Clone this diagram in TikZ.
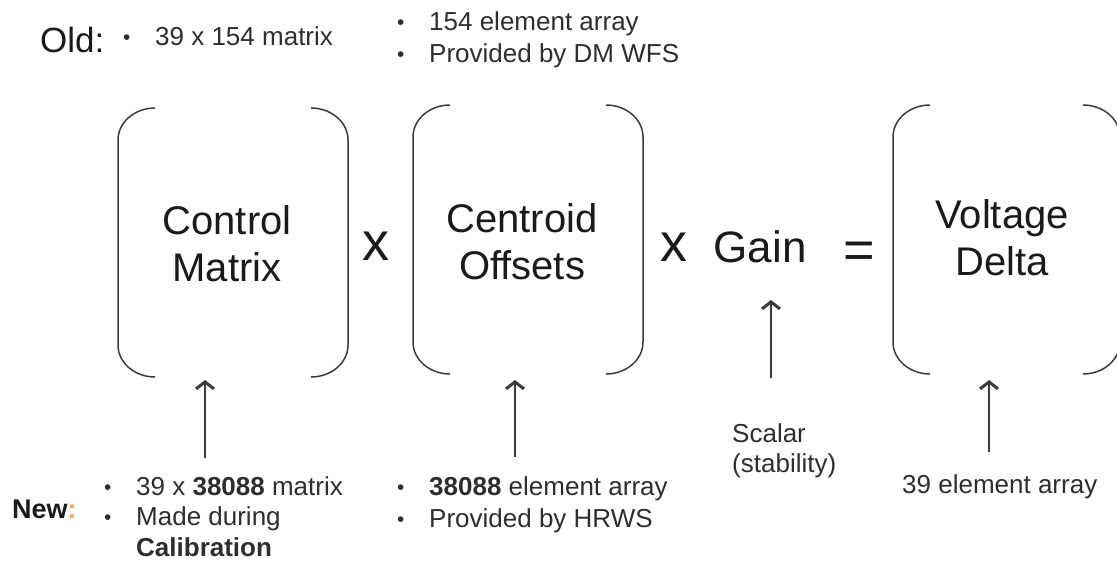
\documentclass[tikz,border=0pt]{standalone}
\usepackage{fontspec}
\setmainfont{Liberation Sans}
\usetikzlibrary{arrows.meta}
\definecolor{ink}{HTML}{1A1A1A}
\definecolor{soft}{HTML}{2E2E2E}
\definecolor{linec}{HTML}{3A3A3A}
\definecolor{orng}{HTML}{F5A05A}
\newcommand\mylbr[3]{\draw[brk] ({#1+37},#2) .. controls ({#1+16.6},#2) and (#1,{#2+14.3}) .. (#1,{#2+32}) -- (#1,{#3-32}) .. controls (#1,{#3-14.3}) and ({#1+16.6},#3) .. ({#1+37},#3);}
\newcommand\myrbr[3]{\draw[brk] ({#1-37},#2) .. controls ({#1-16.6},#2) and (#1,{#2+14.3}) .. (#1,{#2+32}) -- (#1,{#3-32}) .. controls (#1,{#3-14.3}) and ({#1-16.6},#3) .. ({#1-37},#3);}
\newcommand\bul{\makebox[32pt][l]{\raisebox{1pt}{\scalebox{0.8}{\textbullet}}}}
\begin{document}
\begin{tikzpicture}[x=1pt,y=-1pt,
  big/.style={font=\fontsize{40}{46.5}\selectfont, text=ink, align=center, inner sep=0pt, anchor=base},
  op/.style={font=\fontsize{54}{60}\selectfont, text=ink, inner sep=0pt, anchor=base},
  small/.style={font=\fontsize{26}{32}\selectfont, text=soft, inner sep=0pt, anchor=base west},
  brk/.style={draw=linec, line width=1.5pt},
  uparrow/.style={draw=linec, line width=1.7pt, -{Straight Barb[length=7pt,width=18pt,line width=3pt]}}]
\useasboundingbox (0,0) rectangle (1117,563);
\clip (0,0) rectangle (1117,563);
% brackets
\mylbr{118}{108}{377}
\myrbr{348}{108}{377}
\mylbr{413}{105}{374}
\myrbr{643}{105}{374}
\mylbr{893}{105}{374}
\myrbr{1120}{105}{374}
% main labels (base anchor = baseline of the last line)
\node[big] (cm) at (227,281) {Control\\Matrix};
\node[big] (co) at (522,279) {Centroid\\Offsets};
\node[big] (vd) at (1002,275) {Voltage\\Delta};
\node[op] (x1) at (376,260) {x};
\node[op] (x2) at (674,261) {x};
\node[big,font=\fontsize{44}{50}\selectfont] (gain) at (760,262) {Gain};
\node[op] (eq) at (859.5,268) {=};
% arrows
\coordinate (cmTail) at (205,458);
\coordinate (cmTip) at (205,380);
\coordinate (coTail) at (515,457);
\coordinate (coTip) at (515,380);
\coordinate (gTail) at (771,378);
\coordinate (gTip) at (771,300);
\coordinate (vdTail) at (989,452);
\coordinate (vdTip) at (989,380);
\draw[uparrow] (cmTail) -- (cmTip);
\draw[uparrow] (coTail) -- (coTip);
\draw[uparrow] (gTail) -- (gTip);
\draw[uparrow] (vdTail) -- (vdTip);
% old
\node[small,font=\fontsize{35}{40}\selectfont,text=ink] (old) at (40,52) {Old:};
\node[small] (oldA) at (123,45) {\bul 39 x 154 matrix};
\node[small] (oldB) at (397,30) {\begin{tabular}[t]{@{}l@{}}\bul 154 element array\\ \bul Provided by DM WFS\end{tabular}};
% new
\node[small,font=\fontsize{27}{32}\bfseries\selectfont,text=ink] (new) at (12,518) {New\textcolor{orng}{:}};
\node[small,font=\fontsize{26}{30.5}\selectfont] (newA) at (104,495) {\begin{tabular}[t]{@{}l@{}}\bul 39 x \textbf{38088} matrix\\ \bul Made during\\ \hspace*{32pt}\textbf{Calibration}\end{tabular}};
\node[small] (newB) at (397,495) {\begin{tabular}[t]{@{}l@{}}\bul \textbf{38088} element array\\ \bul Provided by HRWS\end{tabular}};
\node[small,font=\fontsize{26}{30}\selectfont] (scal) at (732,442) {\begin{tabular}[t]{@{}l@{}}Scalar\\(stability)\end{tabular}};
\node[small] (vdn) at (902,493) {39 element array};
\end{tikzpicture}
\end{document}
